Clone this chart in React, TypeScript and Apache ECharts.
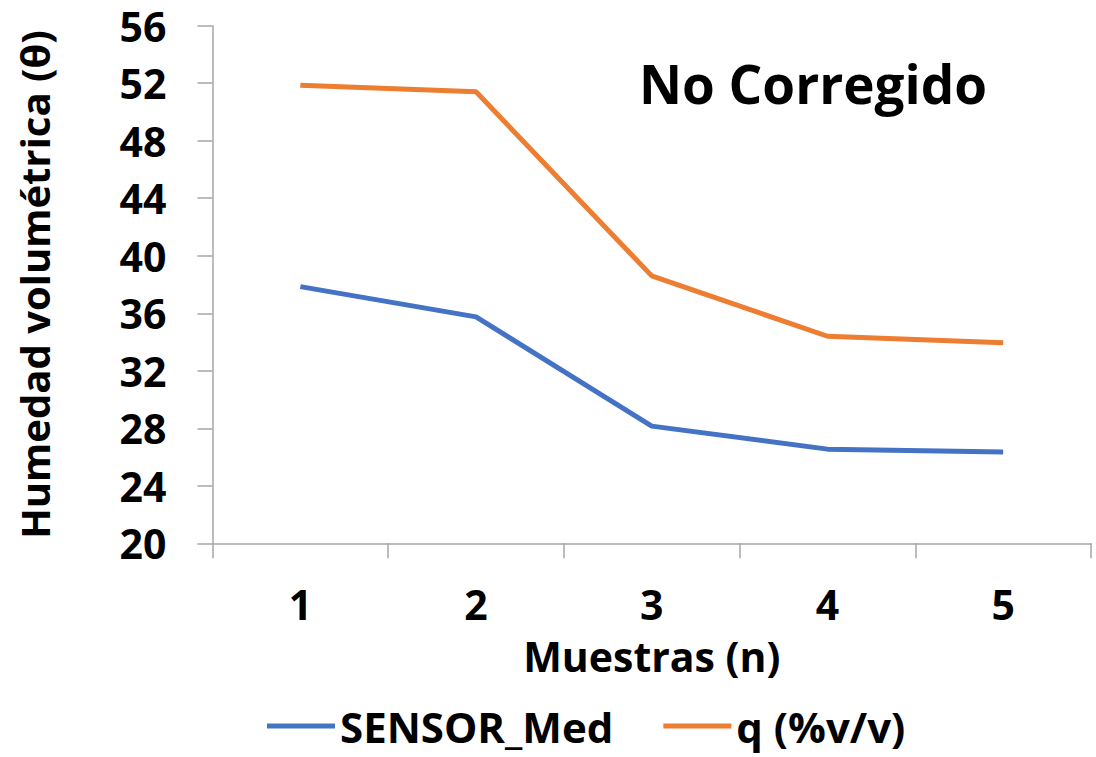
import React, { useEffect, useRef } from "react";
import * as echarts from "echarts";

const categories = ["1", "2", "3", "4", "5"];
const sensorMed = [37.85, 35.75, 28.15, 26.55, 26.35];
const qPercent = [51.85, 51.4, 38.6, 34.4, 33.95];
const seriesNames = ["SENSOR_Med", "q (%v/v)"];
const yMin = 20;
const yMax = 56;
const yStep = 4;

const FONT = "'Open Sans', 'Noto Sans', sans-serif";

export default function App() {
  const ref = useRef<HTMLDivElement>(null);
  useEffect(() => {
    if (!ref.current) return;
    const chart = echarts.init(ref.current, undefined, { renderer: "svg" });
    chart.setOption({
      animation: false,
      backgroundColor: "#ffffff",
      textStyle: { fontFamily: FONT },
      title: {
        text: "No Corregido",
        left: 808,
        top: 52,
        textAlign: "center",
        textStyle: { fontSize: 53, fontWeight: "bold", color: "#000", fontFamily: FONT },
      },
      grid: { left: 212.5, right: 5, top: 25.7, bottom: 213.7, containLabel: false },
      legend: {
        data: seriesNames,
        left: 262,
        top: 700,
        icon: "rect",
        itemWidth: 68,
        itemHeight: 5,
        itemGap: 50,
        textStyle: { fontSize: 42, fontWeight: "bold", color: "#000", fontFamily: FONT },
      },
      xAxis: {
        type: "category",
        data: categories,
        boundaryGap: true,
        name: "Muestras (n)",
        nameLocation: "middle",
        nameGap: 92,
        nameTextStyle: { fontSize: 41, fontWeight: "bold", color: "#000", fontFamily: FONT },
        axisLine: { lineStyle: { color: "#a6a6a6", width: 1.5 } },
        axisTick: { show: true, length: 15, alignWithLabel: false, lineStyle: { color: "#a6a6a6", width: 1.5 } },
        axisLabel: { fontSize: 41, fontWeight: "bold", color: "#000", margin: 40, fontFamily: FONT },
        splitLine: { show: false },
      },
      yAxis: {
        type: "value",
        min: yMin,
        max: yMax,
        interval: yStep,
        name: "Humedad volumétrica (θ)",
        nameLocation: "middle",
        nameGap: 158,
        nameRotate: 90,
        nameTextStyle: { fontSize: 40, fontWeight: "bold", color: "#000", fontFamily: FONT },
        axisLine: { show: true, lineStyle: { color: "#a6a6a6", width: 1.5 } },
        axisTick: { show: true, length: 15, lineStyle: { color: "#a6a6a6", width: 1.5 } },
        axisLabel: { fontSize: 41, lineHeight: 36, fontWeight: "bold", color: "#000", margin: 46, fontFamily: FONT },
        splitLine: { show: false },
      },
      series: [
        {
          name: seriesNames[0],
          type: "line",
          data: sensorMed,
          symbol: "none",
          lineStyle: { color: "#4472C4", width: 5 },
          itemStyle: { color: "#4472C4" },
        },
        {
          name: seriesNames[1],
          type: "line",
          data: qPercent,
          symbol: "none",
          lineStyle: { color: "#ED7D31", width: 5 },
          itemStyle: { color: "#ED7D31" },
        },
      ],
    });
    return () => chart.dispose();
  }, []);
  return (
    <div
      ref={ref}
      style={{ width: 1096, height: 757, position: "absolute", left: 0, top: 0 }}
    />
  );
}
